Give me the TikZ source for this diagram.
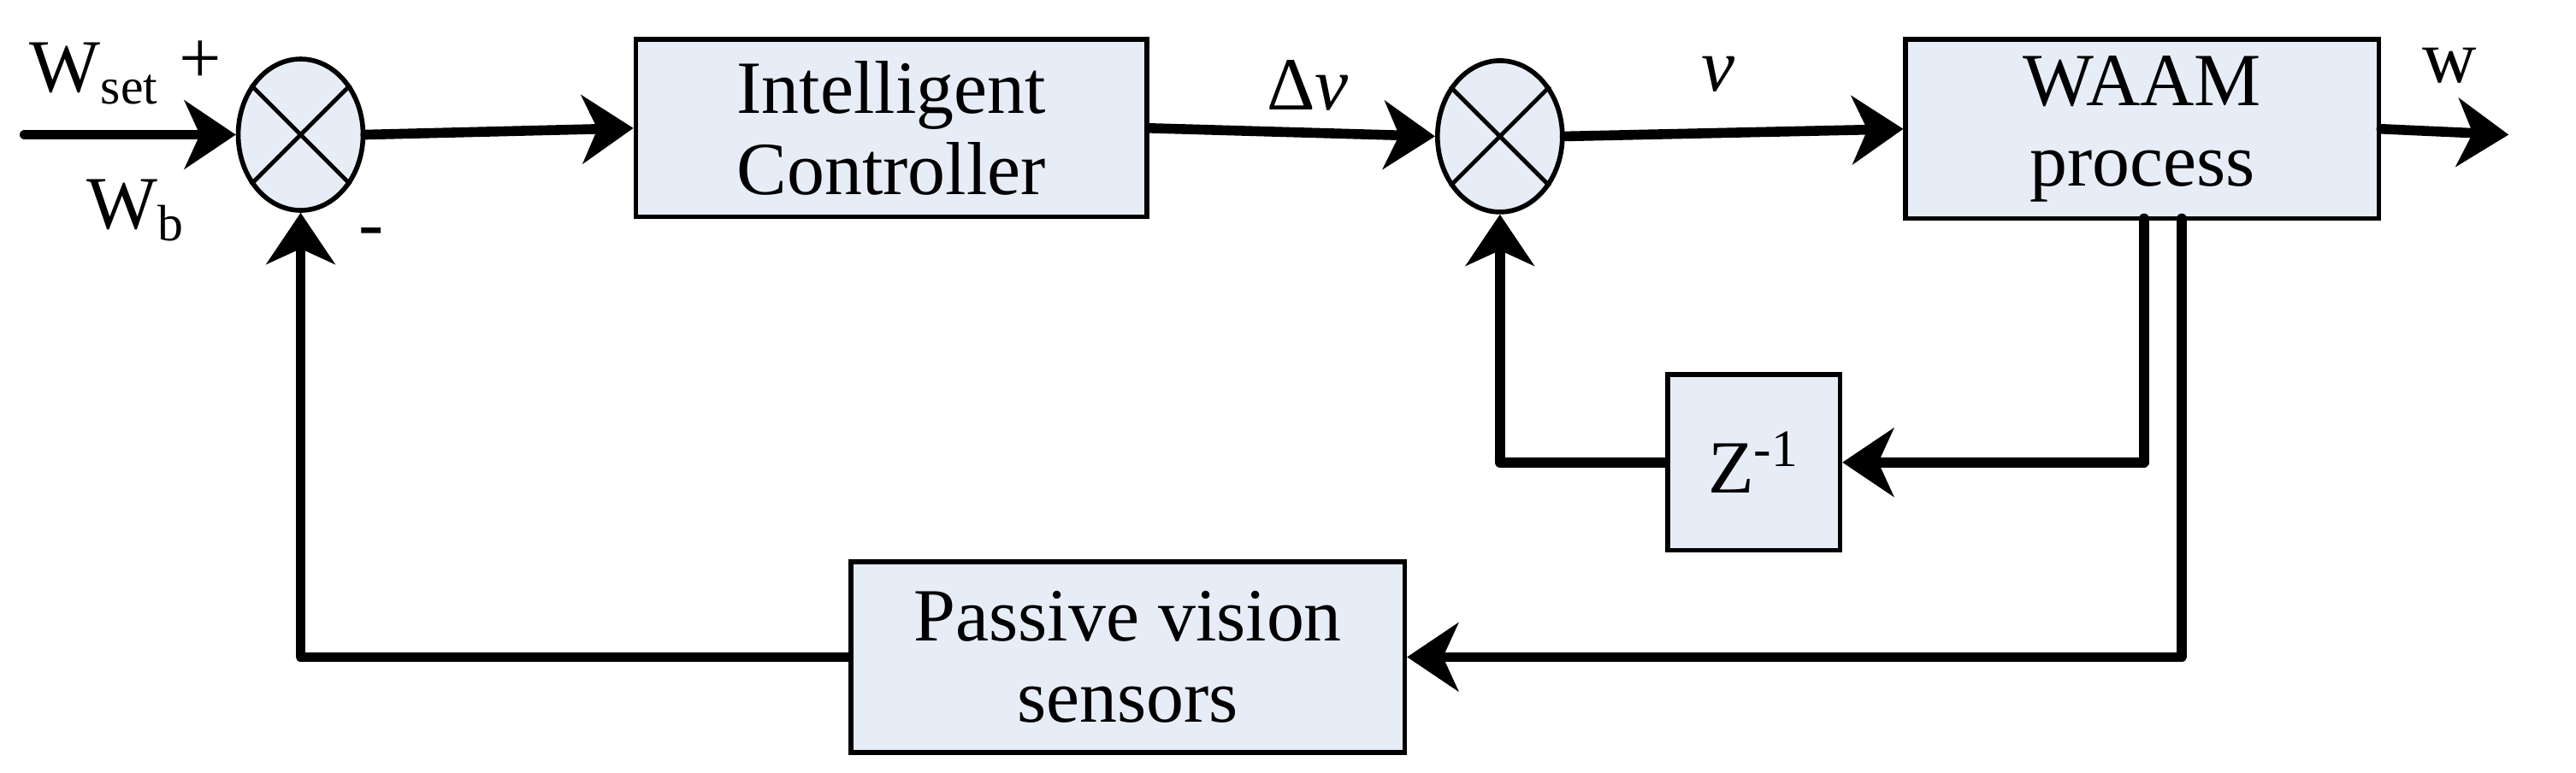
\documentclass[tikz,border=0pt]{standalone}
\usepackage{fontspec}
\setmainfont{Liberation Serif}
\usetikzlibrary{arrows.meta,shapes.geometric}
\definecolor{boxfill}{HTML}{E6EDF7}
\begin{document}
\begin{tikzpicture}[x=0.01921cm,y=-0.01921cm,
  blk/.style={draw,line width=1.6pt,fill=boxfill,inner sep=0,align=center,font=\fontsize{25}{27}\selectfont},
  sum/.style={draw,ellipse,line width=1.6pt,fill=boxfill,minimum width=1.46cm,minimum height=1.77cm,inner sep=0},
  con/.style={line width=3.3pt,line cap=round,line join=round},
  arr/.style={con,-{Stealth[length=0.6cm,width=0.8cm,inset=0.18cm]}},
  lbl/.style={font=\fontsize{25}{27}\selectfont,inner sep=0}]
\useasboundingbox (0,0) rectangle (1568,470.6);
\node[sum] (s1) at (183,82) {};
\node[sum] (s2) at (913,83) {};
\foreach \s in {s1,s2}{\draw[line width=1.4pt] (\s.45)--(\s.225) (\s.135)--(\s.315);}
\node[blk,minimum width=311*0.01921cm,minimum height=108*0.01921cm] (ic) at (542.5,78) {Intelligent\\Controller};
\node[blk,minimum width=288*0.01921cm,minimum height=109*0.01921cm] (wp) at (1304,78.5) {WAAM\\process};
\node[blk,minimum width=105*0.01921cm,minimum height=107*0.01921cm] (z) at (1067.5,281.5) {Z\textsuperscript{-1}};
\node[blk,minimum width=337*0.01921cm,minimum height=116*0.01921cm] (pv) at (686.5,400) {Passive vision\\sensors};
\coordinate (in) at (15,82);
\coordinate (out) at (1527,82);
\coordinate (t1) at (1305,133);
\coordinate (t2) at (1328,133);
\draw[arr] (in) -- (s1.west);
\draw[arr] (s1.east) -- (ic.west);
\draw[arr] (ic.east) -- (s2.west);
\draw[arr] (s2.east) -- (wp.west);
\draw[arr] (wp.east) -- (out);
\draw[arr] (t1) |- (z.east);
\draw[arr] (z.west) -| (s2.south);
\draw[arr] (t2) |- (pv.east);
\draw[arr] (pv.west) -| (s1.south);
\node[lbl] (lw) at (57,45) {W\raisebox{-0.35ex}{\fontsize{17}{17}\selectfont set}};
\node[lbl] (lp) at (122,38) {+};
\node[lbl] (lb) at (82,128) {W\raisebox{-0.35ex}{\fontsize{17}{17}\selectfont b}};
\node[lbl] (lm) at (226,145) {-};
\node[lbl] (ld) at (796,52) {Δ\textit{v}};
\node[lbl] (lv) at (1046,45) {\textit{v}};
\node[lbl] (lo) at (1491,40) {w};
\end{tikzpicture}
\end{document}
